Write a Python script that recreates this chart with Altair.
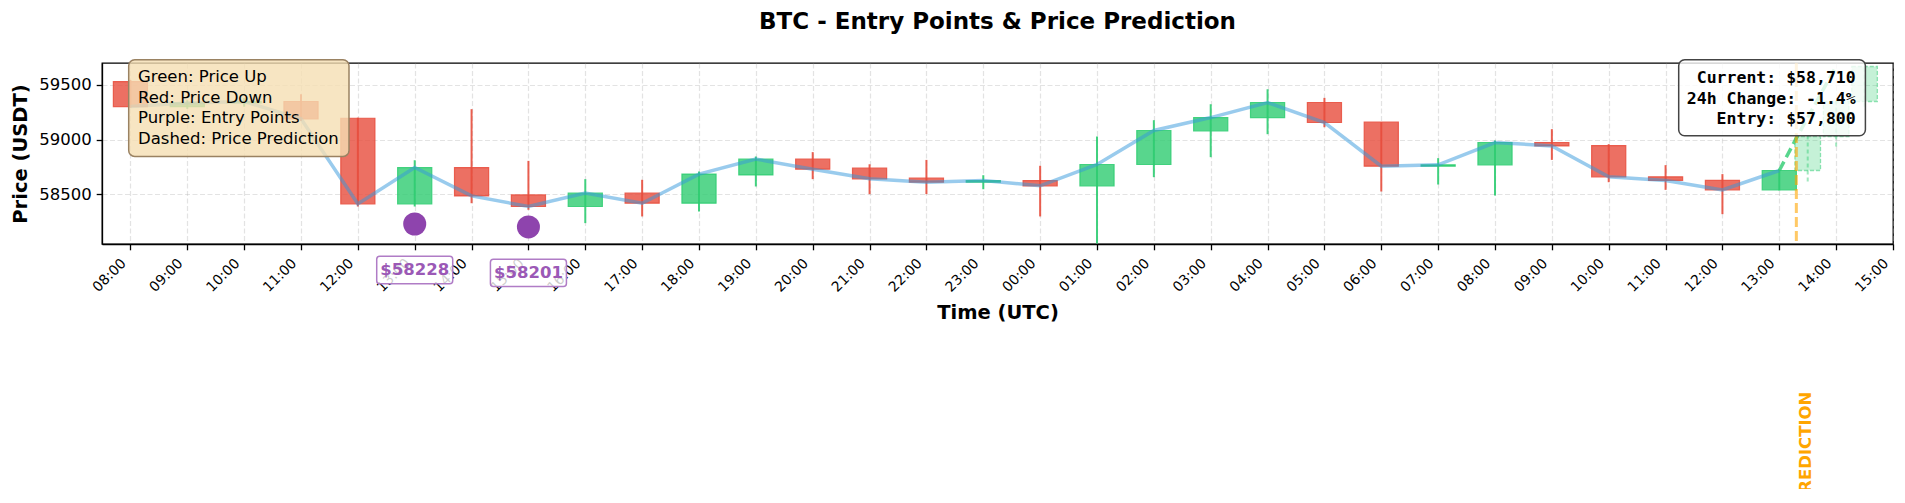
import altair as alt
import pandas as pd

# ---------------- data ----------------
candle_start = "2024-05-01 08:00"          # first hourly candle (UTC)
open_ = [59530, 59302, 59335, 59348, 59195, 58412, 58744, 58494, 58388, 58510,
         58418, 58677, 58821, 58738, 58647, 58610, 58625, 58577, 58772, 59080,
         59201, 59339, 59159, 58757, 58769, 58973, 58945, 58659, 58626, 58540]
high_ = [59545, 59360, 59380, 59415, 59200, 58811, 59278, 58805, 58638, 58632,
         58708, 58845, 58885, 58774, 58814, 58674, 58760, 59028, 59177, 59323,
         59460, 59381, 59159, 58830, 58991, 59095, 58958, 58766, 58684, 58725]
low_ = [59290, 59280, 59300, 59170, 58388, 58388, 58418, 58358, 58236, 58297,
        58342, 58571, 58638, 58501, 58501, 58546, 58297, 58050, 58656, 58839,
        59049, 59113, 58525, 58589, 58489, 58814, 58610, 58540, 58318, 58535]
close_ = [59302, 59335, 59348, 59190, 58412, 58744, 58485, 58388, 58510, 58418,
          58684, 58821, 58729, 58641, 58610, 58625, 58577, 58772, 59083, 59201,
          59339, 59156, 58757, 58769, 58973, 58942, 58659, 58626, 58540, 58717]

pred_times = ["2024-05-02 13:30", "2024-05-02 14:00", "2024-05-02 14:30"]
pred_open = [58717, 59027, 59348]
pred_close = [59027, 59348, 59668]
pred_high = [59035, 59360, 59700]
pred_low = [58616, 58936, 59300]

pred_line_times = ["2024-05-02 13:00", "2024-05-02 13:18", "2024-05-02 14:00"]
pred_line_prices = [58717, 59013, 59670]

entry_times = ["2024-05-01 13:00", "2024-05-01 15:00"]
entry_prices = [58228, 58201]
entry_labels = ["$58228", "$58201"]

now_time = "2024-05-02 13:18"
prediction_label_price = [55660]

tick_first, tick_last = "2024-05-01 08:00", "2024-05-02 15:00"
y_ticks = [58500, 59000, 59500]
y_domain = [58045, 59700]

title_text = "BTC - Entry Points & Price Prediction"
legend_lines = ["Green: Price Up", "Red: Price Down", "Purple: Entry Points",
                "Dashed: Price Prediction"]
info_lines = ["Current: $58,710", "24h Change: -1.4%", "Entry: $57,800"]

UP, DOWN, PURPLE = "#2ecc71", "#e74c3c", "#8e44ad"


def iso(ts):
    return pd.Timestamp(ts).strftime("%Y-%m-%dT%H:%M:%SZ")


def dt(ts):
    t = pd.Timestamp(ts)
    return alt.DateTime(year=t.year, month=t.month, date=t.day,
                        hours=t.hour, minutes=t.minute, utc=True)


# ---------------- tables ----------------
times = pd.date_range(candle_start, periods=len(open_), freq="h")
half = pd.Timedelta(minutes=18)              # body width 0.6 h
df = pd.DataFrame({
    "t": [iso(t) for t in times],
    "t0": [iso(t - half) for t in times],
    "t1": [iso(t + half) for t in times],
    "open": open_, "high": high_, "low": low_, "close": close_,
})
df["dir"] = ["up" if c >= o else "down" for o, c in zip(open_, close_)]

phalf = pd.Timedelta(minutes=13.5)
pt = pd.to_datetime(pred_times)
pdf = pd.DataFrame({
    "t": [iso(t) for t in pt],
    "t0": [iso(t - phalf) for t in pt],
    "t1": [iso(t + phalf) for t in pt],
    "open": pred_open, "close": pred_close, "high": pred_high, "low": pred_low,
})
pldf = pd.DataFrame({"t": [iso(t) for t in pred_line_times], "p": pred_line_prices})
edf = pd.DataFrame({"t": [iso(t) for t in entry_times], "p": entry_prices,
                    "label": entry_labels})
ndf = pd.DataFrame({"t": [iso(now_time)], "p": prediction_label_price})
one = pd.DataFrame({"k": [0]})

tick_values = [dt(t) for t in pd.date_range(tick_first, tick_last, freq="h")]

# ---------------- scales / axes ----------------
xscale = alt.Scale(type="utc", domain=[dt("2024-05-01 07:30"), dt(tick_last)], nice=False)
yscale = alt.Scale(domain=y_domain, zero=False, nice=False)

xaxis = alt.Axis(values=tick_values, format="%H:%M", labelAngle=315,
                 labelAlign="right", labelBaseline="middle", labelOffset=-7,
                 labelPadding=11, labelFontSize=14, labelOverlap=False,
                 labelFlush=False, labelBound=False, title="Time (UTC)",
                 titleFontSize=19.5, titleFontWeight="bold", titleX=895.5,
                 titleY=74, titleBaseline="alphabetic", titleAlign="center")
yaxis = alt.Axis(values=y_ticks, format="d", labelFontSize=16.5, labelPadding=5,
                 title="Price (USDT)", titleFontSize=19.5, titleFontWeight="bold",
                 titleAngle=270, titleX=-76, titleY=90.5, titleAlign="center",
                 titleBaseline="alphabetic")


def X(f):
    return alt.X(f, type="temporal", scale=xscale, axis=xaxis, title="Time (UTC)")


def Y(f):
    return alt.Y(f, type="quantitative", scale=yscale, axis=yaxis, title="Price (USDT)")


cscale = alt.Scale(domain=["up", "down"], range=[UP, DOWN])

# ---------------- layers ----------------
wicks = alt.Chart(df).mark_rule(strokeWidth=2, opacity=0.9, clip=True).encode(
    x=X("t"), y=Y("low"), y2="high",
    color=alt.Color("dir:N", scale=cscale, legend=None))

bodies = alt.Chart(df).mark_bar(fillOpacity=0.8, strokeOpacity=0.85, strokeWidth=1.2,
                                clip=True).encode(
    x=X("t0"), x2="t1", y=Y("open"), y2="close",
    color=alt.Color("dir:N", scale=cscale, legend=None),
    stroke=alt.Stroke("dir:N", scale=cscale, legend=None))

close_line = alt.Chart(df).mark_line(color="#3498db", opacity=0.5, strokeWidth=3.5,
                                     clip=True).encode(x=X("t"), y=Y("close"))

pred_wicks = alt.Chart(pdf).mark_rule(color=UP, opacity=0.45, strokeWidth=2,
                                      strokeDash=[4, 3], clip=True).encode(
    x=X("t"), y=Y("low"), y2="high")

pred_bodies = alt.Chart(pdf).mark_bar(fill=UP, fillOpacity=0.28, stroke=UP,
                                      strokeOpacity=0.5, strokeWidth=1.3,
                                      strokeDash=[4, 2], clip=True).encode(
    x=X("t0"), x2="t1", y=Y("open"), y2="close")

pred_line = alt.Chart(pldf).mark_line(color=UP, opacity=0.8, strokeWidth=3.5,
                                      strokeDash=[10, 5], clip=True).encode(
    x=X("t"), y=Y("p"))

now_rule = alt.Chart(ndf).mark_rule(color="orange", opacity=0.6, strokeWidth=3,
                                    strokeDash=[10, 4]).encode(x=X("t"))

entries = alt.Chart(edf).mark_circle(size=530, color=PURPLE, opacity=1).encode(
    x=X("t"), y=Y("p"))

box_path = ("M-0.92,-0.36 H0.92 A0.08,0.08 0 0 1 1,-0.28 V0.28 "
            "A0.08,0.08 0 0 1 0.92,0.36 H-0.92 A0.08,0.08 0 0 1 -1,0.28 "
            "V-0.28 A0.08,0.08 0 0 1 -0.92,-0.36 Z")
entry_boxes = alt.Chart(edf).mark_point(shape=box_path, size=76 ** 2, filled=True,
                                        fill="white", fillOpacity=0.8,
                                        stroke="#b07cc6", strokeWidth=1.5,
                                        opacity=1, yOffset=46).encode(
    x=X("t"), y=Y("p"))
entry_text = alt.Chart(edf).mark_text(dy=46, fontSize=16.5, fontWeight="bold",
                                      color="#9b59b6", align="center",
                                      baseline="middle", font="DejaVu Sans").encode(
    x=X("t"), y=Y("p"), text="label:N")

legend_box = alt.Chart(one).mark_rect(fill="#f5deb3", fillOpacity=0.8, stroke="#9a8262",
                                      strokeWidth=1.5, cornerRadius=6).encode(
    x=alt.value(26.7), x2=alt.value(247), y=alt.value(-3.3), y2=alt.value(93.4))
legend_text = alt.Chart(one).mark_text(text=legend_lines, align="left",
                                       baseline="alphabetic", fontSize=16.5,
                                       lineHeight=20.7, font="DejaVu Sans",
                                       color="black").encode(
    x=alt.value(36), y=alt.value(19))

info_box = alt.Chart(one).mark_rect(fill="white", fillOpacity=0.8, stroke="#444444",
                                    strokeWidth=1.5, cornerRadius=6).encode(
    x=alt.value(1576.7), x2=alt.value(1763.4), y=alt.value(-3.3), y2=alt.value(72.7))
info_text = alt.Chart(one).mark_text(text=info_lines, align="right",
                                     baseline="alphabetic", fontSize=16.5,
                                     lineHeight=20.6, font="DejaVu Sans Mono",
                                     fontWeight="bold", color="black").encode(
    x=alt.value(1753.7), y=alt.value(20))

pred_label = alt.Chart(ndf).mark_text(text="PREDICTION", angle=270, align="left",
                                      baseline="middle", dy=10, fontSize=16.5,
                                      fontWeight="bold", color="orange",
                                      font="DejaVu Sans").encode(
    x=X("t"), y=Y("p"))

# chart title, centred over the plot area
title_mark = alt.Chart(one).mark_text(text=title_text, align="center",
                                      baseline="alphabetic", fontSize=23,
                                      fontWeight="bold", font="DejaVu Sans",
                                      color="black").encode(
    x=alt.value(895.5), y=alt.value(-34))

chart = alt.layer(
    wicks, bodies, close_line, pred_wicks, pred_bodies, pred_line, now_rule,
    entries, entry_boxes, entry_text, legend_box, legend_text, info_box,
    info_text, pred_label, title_mark,
).properties(
    width=1791, height=181,
    autosize=alt.AutoSizeParams(type="none"),
    padding={"left": 94, "right": 3, "top": 55, "bottom": 245},
    background="white",
).configure_view(
    stroke="black", strokeWidth=1.3
).configure_axis(
    domainColor="black", domainWidth=1.3, tickColor="black", tickWidth=1.3,
    tickSize=5.8, gridColor="#b0b0b0", gridOpacity=0.35, gridDash=[5, 2.5],
    gridWidth=1.2, labelFont="DejaVu Sans", titleFont="DejaVu Sans",
    labelColor="black", titleColor="black",
)

chart.save("out.html", embed_options={"renderer": "svg", "actions": False})
